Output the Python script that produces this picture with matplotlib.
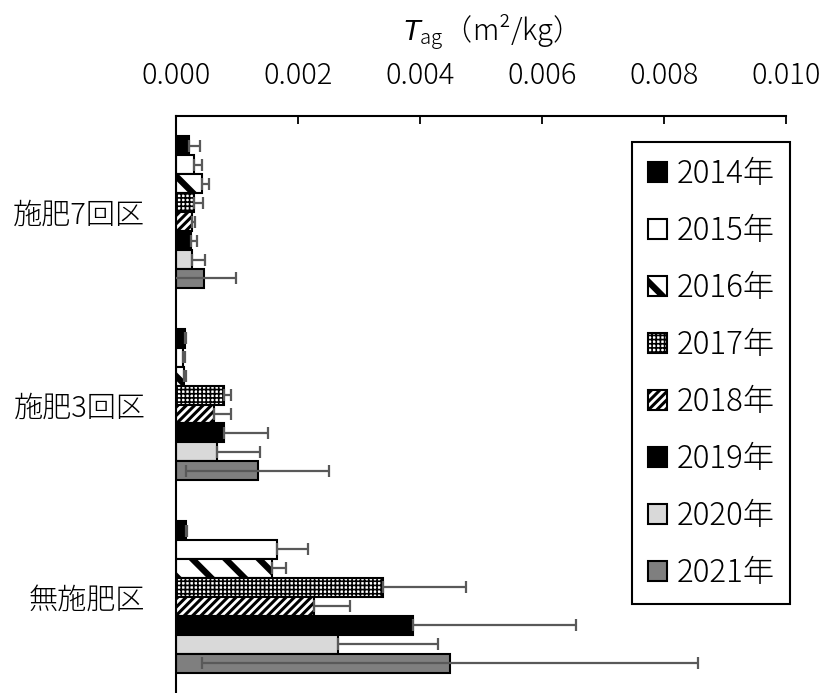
import numpy as np
import matplotlib
matplotlib.use("Agg")
import matplotlib.pyplot as plt

plt.rcParams['font.family'] = ['Noto Sans CJK JP', 'DejaVu Sans']
plt.rcParams['font.weight'] = 'light'
plt.rcParams['mathtext.fontset'] = 'custom'
plt.rcParams['mathtext.it'] = 'Liberation Sans:italic'
plt.rcParams['mathtext.rm'] = 'Noto Sans CJK JP:light'

# 区分と年
plots = ['施肥7回区', '施肥3回区', '無施肥区']
years = ['2014年', '2015年', '2016年', '2017年', '2018年', '2019年', '2020年', '2021年']

# T_ag 平均値 (m2/kg)  2014..2021
mean_7 = [0.00022, 0.00030, 0.00042, 0.00030, 0.00027, 0.00025, 0.00027, 0.00046]
mean_3 = [0.00014, 0.00011, 0.00013, 0.00079, 0.00062, 0.00079, 0.00068, 0.00134]
mean_0 = [0.00016, 0.00165, 0.00158, 0.00340, 0.00226, 0.00388, 0.00265, 0.00449]
# 標準偏差
sd_7 = [0.00018, 0.00013, 0.00012, 0.00014, 0.00004, 0.00010, 0.00021, 0.00052]
sd_3 = [0.00002, 0.00004, 0.00003, 0.00011, 0.00028, 0.00072, 0.00069, 0.00117]
sd_0 = [0.00002, 0.00052, 0.00022, 0.00135, 0.00060, 0.00268, 0.00165, 0.00406]

means = np.array([mean_7, mean_3, mean_0])
sds = np.array([sd_7, sd_3, sd_0])

# 系列の塗り (facecolor, hatch, hatch linewidth)
styles = [
    ('black', '', 1.0),
    ('white', '', 1.0),
    ('white', '\\', 4.5),
    ('white', '++++', 1.2),
    ('white', '////', 2.2),
    ('black', '', 1.0),
    ('#d9d9d9', '', 1.0),
    ('#7f7f7f', '', 1.0),
]

fig = plt.figure(figsize=(8.22, 6.93), dpi=100)
ax = fig.add_axes([176/822, 0.0, 610/822, 577/693])

y = np.arange(len(plots))
h = 0.0985
handles = []
for i, yr in enumerate(years):
    fc, hatch, hlw = styles[i]
    pos = y + (i - 3.5) * h
    with plt.rc_context({'hatch.linewidth': hlw}):
        bars = ax.barh(pos, means[:, i], height=h, color=fc, edgecolor='black',
                       linewidth=1.5, hatch=hatch, label=yr, zorder=2)
    for p in bars:
        if hasattr(p, 'set_hatch_linewidth'):
            p.set_hatch_linewidth(hlw)
    handles.append(bars)
    # 2021年だけ両側、他はプラス側のみ
    if i == len(years) - 1:
        xerr = sds[:, i]
    else:
        xerr = [np.zeros(len(plots)), sds[:, i]]
    ax.errorbar(means[:, i], pos, xerr=xerr, fmt='none', ecolor='#595959',
                elinewidth=1.6, capsize=4.3, capthick=1.6, zorder=3)

ax.set_xlim(0, 0.010)
ax.set_ylim(2.5, -0.5)
ax.set_xticks(np.arange(0, 0.0101, 0.002))
ax.set_xticklabels(['%.3f' % v for v in np.arange(0, 0.0101, 0.002)])
ax.set_yticks(y)
ax.set_yticklabels(plots)

ax.xaxis.tick_top()
ax.tick_params(axis='x', direction='in', length=6, width=1.3, pad=18, labelsize=21,
               top=True, bottom=False)
ax.tick_params(axis='y', length=0, pad=22, labelsize=21)
for s in ['right', 'bottom']:
    ax.spines[s].set_visible(False)
for s in ['top', 'left']:
    ax.spines[s].set_linewidth(1.5)

fig.text(483/822, 1 - 32/693, r'$\mathit{T}_{\mathrm{ag}}$（m²/kg）', ha='center', va='center',
         fontsize=21)

leg = ax.legend(handles=handles, loc='upper right', bbox_to_anchor=(790/822, 1 - 142/693),
                bbox_transform=fig.transFigure, fontsize=22.5, frameon=True, fancybox=False,
                edgecolor='black', framealpha=1, handlelength=0.62, handleheight=0.62,
                handletextpad=0.3, labelspacing=0.8, borderpad=0.5, borderaxespad=0)
leg.get_frame().set_linewidth(1.5)
for hd, st in zip(leg.legend_handles, styles):
    if hasattr(hd, 'set_hatch_linewidth'):
        hd.set_hatch_linewidth(st[2])

fig.savefig('out.png', dpi=100)
